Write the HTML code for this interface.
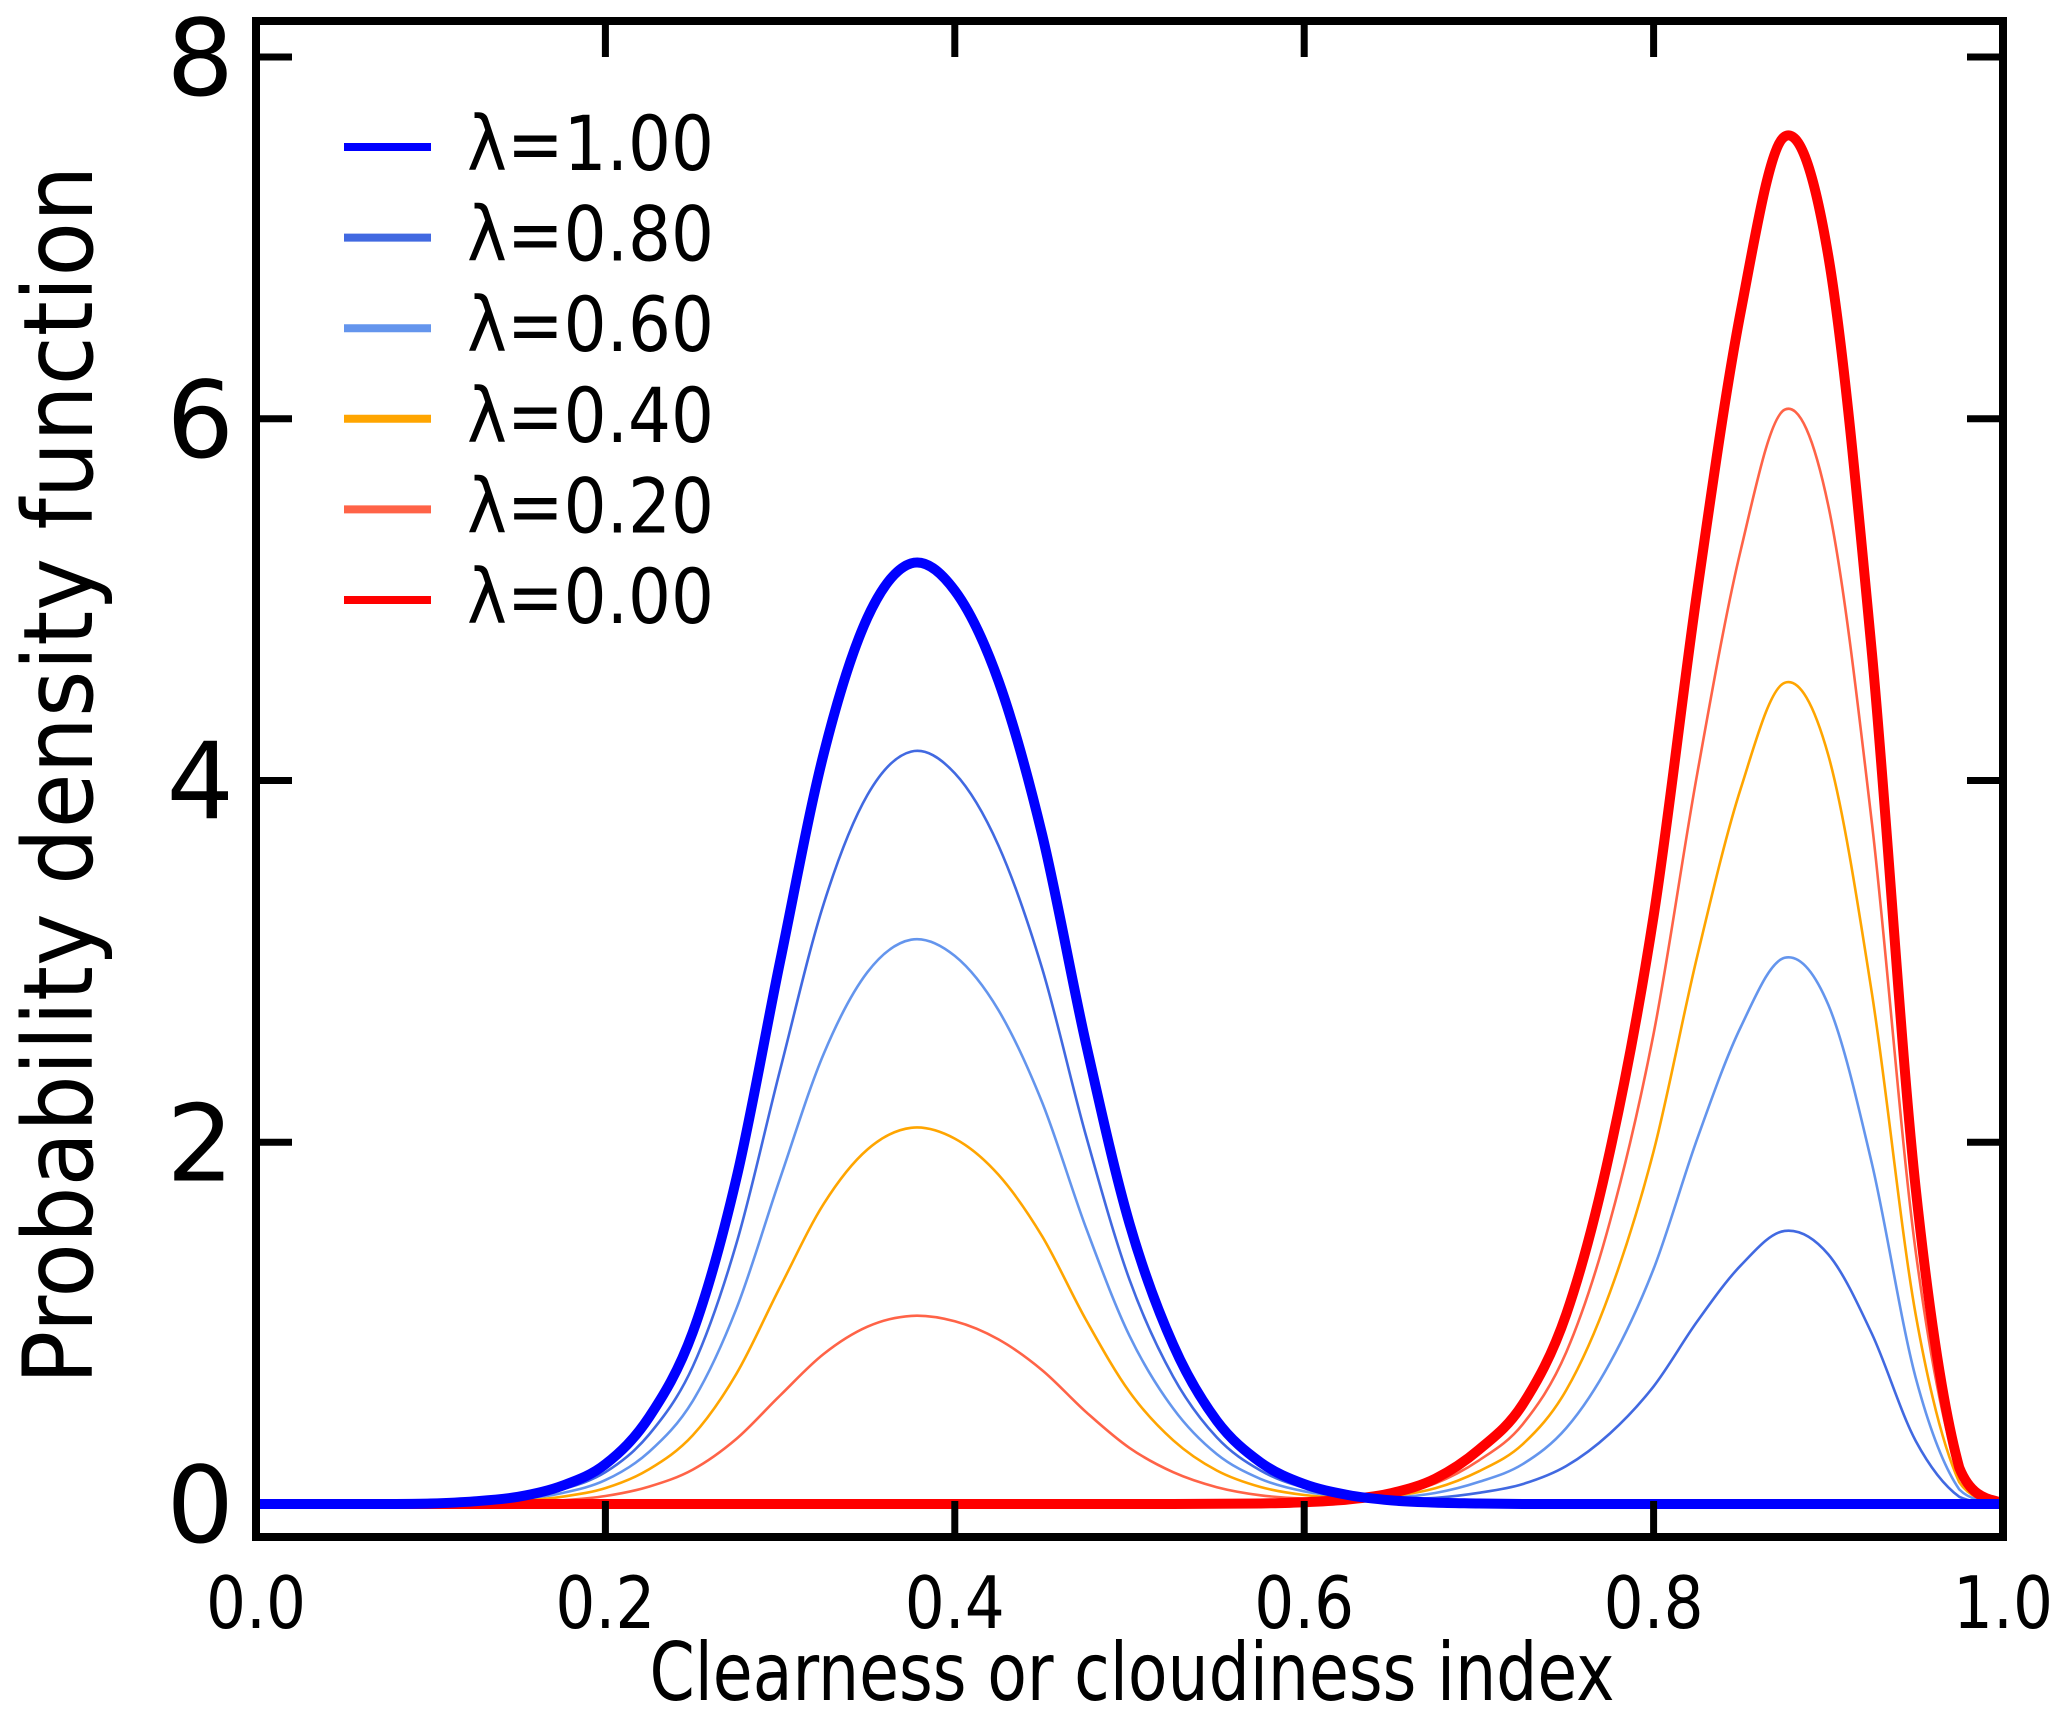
<!DOCTYPE html>
<html><head><meta charset="utf-8"><style>
html,body{margin:0;padding:0;background:#fff;}
svg{display:block;}
text{font-family:"DejaVu Sans","Liberation Sans",sans-serif;fill:#000;}
</style></head><body>
<svg id="chart" width="2067" height="1725" viewBox="0 0 2067 1725" xmlns="http://www.w3.org/2000/svg">
<g id="plot"></g>
<g id="axes"></g>
<g id="legend"></g>
</svg>
<script>
const xGrid = [0,0.025,0.05,0.075,0.1,0.125,0.15,0.175,0.2,0.225,0.25,0.275,0.3,0.325,0.35,0.375,0.4,0.425,0.45,0.475,0.5,0.525,0.55,0.575,0.6,0.625,0.65,0.675,0.7,0.725,0.75,0.775,0.8,0.825,0.85,0.875,0.9,0.925,0.95,0.975,1.0];
const lambda100 = [0,0,0,0,0.003,0.015,0.04,0.1,0.22,0.48,0.95,1.8,3.0,4.15,4.9,5.2,5.05,4.55,3.7,2.55,1.55,0.88,0.46,0.23,0.11,0.05,0.02,0.008,0.003,0,0,0,0,0,0,0,0,0,0,0,0];
const lambda080 = [0,0,0,0,0.002,0.012,0.032,0.08,0.176,0.384,0.76,1.44,2.4,3.32,3.92,4.16,4.04,3.64,2.96,2.04,1.24,0.704,0.368,0.185,0.09,0.045,0.028,0.034,0.062,0.11,0.21,0.39,0.65,1.01,1.32,1.51,1.38,0.94,0.35,0.04,0];
const lambda060 = [0,0,0,0,0.002,0.009,0.024,0.06,0.132,0.288,0.57,1.08,1.8,2.49,2.94,3.12,3.03,2.73,2.22,1.53,0.93,0.528,0.276,0.139,0.07,0.04,0.036,0.061,0.122,0.22,0.42,0.78,1.3,2.02,2.64,3.02,2.76,1.88,0.7,0.08,0];
const lambda040 = [0,0,0,0,0.001,0.006,0.016,0.04,0.088,0.192,0.38,0.72,1.2,1.66,1.96,2.08,2.02,1.82,1.48,1.02,0.62,0.352,0.185,0.094,0.05,0.035,0.044,0.087,0.181,0.33,0.63,1.17,1.95,3.03,3.96,4.54,4.14,2.82,1.05,0.12,0];
const lambda020 = [0,0,0,0,0.001,0.003,0.008,0.02,0.044,0.096,0.19,0.36,0.6,0.83,0.98,1.04,1.01,0.91,0.74,0.51,0.31,0.176,0.093,0.048,0.03,0.03,0.052,0.114,0.241,0.44,0.84,1.56,2.6,4.04,5.28,6.05,5.52,3.76,1.4,0.16,0];
const lambda000 = [0,0,0,0,0,0,0,0,0,0,0,0,0,0,0,0,0,0,0,0,0,0,0.001,0.003,0.01,0.025,0.06,0.14,0.3,0.55,1.05,1.95,3.25,5.05,6.6,7.56,6.9,4.7,1.75,0.2,0];
const legendLabels = ["λ=1.00","λ=0.80","λ=0.60","λ=0.40","λ=0.20","λ=0.00"];
const xTicks = [0,0.2,0.4,0.6,0.8,1.0];
const xTickLabels = ["0.0","0.2","0.4","0.6","0.8","1.0"];
const yTicks = [0,2,4,6,8];
const yTickLabels = ["0","2","4","6","8"];

const NS = "http://www.w3.org/2000/svg";
const X0 = 256, X1 = 2003, YB = 1504, YT = 57;
function sx(v){ return X0 + v*(X1-X0); }
function sy(v){ return YB - v*(YB-YT)/8; }
function mk(tag, attrs, parent){ const e=document.createElementNS(NS,tag); for(const k in attrs) e.setAttribute(k,attrs[k]); parent.appendChild(e); return e; }
function pathD(xs, ys){
  const p = xs.map((x,i)=>[sx(x), sy(ys[i])]);
  let d = "M"+p[0][0].toFixed(1)+","+p[0][1].toFixed(1);
  for(let i=0;i<p.length-1;i++){
    const p0=p[Math.max(0,i-1)], p1=p[i], p2=p[i+1], p3=p[Math.min(p.length-1,i+2)];
    let c1y = p1[1]+(p2[1]-p0[1])/6, c2y = p2[1]-(p3[1]-p1[1])/6;
    c1y=Math.min(c1y,YB); c2y=Math.min(c2y,YB);
    d += " C"+(p1[0]+(p2[0]-p0[0])/6).toFixed(1)+","+c1y.toFixed(1)+" "+(p2[0]-(p3[0]-p1[0])/6).toFixed(1)+","+c2y.toFixed(1)+" "+p2[0].toFixed(1)+","+p2[1].toFixed(1);
  }
  return d;
}
const plot = document.getElementById("plot");
const seriesList = [
  {ys:lambda080, c:"#4169e1", w:2.6, n:"line-lambda-0-80"},
  {ys:lambda060, c:"#6495ed", w:2.6, n:"line-lambda-0-60"},
  {ys:lambda040, c:"#ffa500", w:2.6, n:"line-lambda-0-40"},
  {ys:lambda020, c:"#ff6347", w:2.6, n:"line-lambda-0-20"},
  {ys:lambda000, c:"#ff0000", w:10, n:"line-lambda-0-00"},
  {ys:lambda100, c:"#0000ff", w:10, n:"line-lambda-1-00"}
];
seriesList.forEach(s=>{
  const el = mk("path",{d:pathD(xGrid,s.ys),fill:"none",stroke:s.c,"stroke-width":s.w,"stroke-linejoin":"round","stroke-linecap":"butt"},plot);
  
  
});

const axes = document.getElementById("axes");
const frame = mk("rect",{x:X0,y:21,width:X1-X0,height:1537-21,fill:"none",stroke:"#000","stroke-width":8},axes);


xTicks.forEach((v,i)=>{
  if(v>0 && v<1){
    const t1 = mk("line",{x1:sx(v),x2:sx(v),y1:1537,y2:1501,stroke:"#000","stroke-width":7},axes);
    
    
    const t2 = mk("line",{x1:sx(v),x2:sx(v),y1:21,y2:57,stroke:"#000","stroke-width":7},axes);
    
    
  }
  const lb = mk("text",{x:sx(v),y:1628,"font-size":72,"text-anchor":"middle",textLength:100,lengthAdjust:"spacingAndGlyphs"},axes);
  lb.textContent = xTickLabels[i];
  
  
});
yTicks.forEach((v,i)=>{
  if(v>0){
    const t1 = mk("line",{x1:X0,x2:X0+36,y1:sy(v),y2:sy(v),stroke:"#000","stroke-width":7},axes);
    
    
    const t2 = mk("line",{x1:X1,x2:X1-36,y1:sy(v),y2:sy(v),stroke:"#000","stroke-width":7},axes);
    
    
  }
  const lb = mk("text",{x:234,y:sy(v)+38,"font-size":106,"text-anchor":"end"},axes);
  lb.textContent = yTickLabels[i];
  
  
});
const xt = mk("text",{x:1132,y:1700,"font-size":80,"text-anchor":"middle",textLength:965,lengthAdjust:"spacingAndGlyphs"},axes);
xt.textContent = "Clearness or cloudiness index";


const yt = mk("text",{x:0,y:0,"font-size":96,"text-anchor":"middle",textLength:1219,lengthAdjust:"spacingAndGlyphs",transform:"translate(92,775) rotate(-90)"},axes);
yt.textContent = "Probability density function";



const legend = document.getElementById("legend");
const legColors = ["#0000ff","#4169e1","#6495ed","#ffa500","#ff6347","#ff0000"];
legendLabels.forEach((lab,i)=>{
  const y = 147 + i*90.6;
  const g = mk("g",{},legend);
  
  
  const ln = mk("line",{x1:344,x2:431,y1:y,y2:y,stroke:legColors[i],"stroke-width":8},g);
  
  
  const tx = mk("text",{x:467,y:y+23,"font-size":76,textLength:247,lengthAdjust:"spacingAndGlyphs"},g);
  tx.textContent = lab;
  
  
});
</script>
</body></html>
